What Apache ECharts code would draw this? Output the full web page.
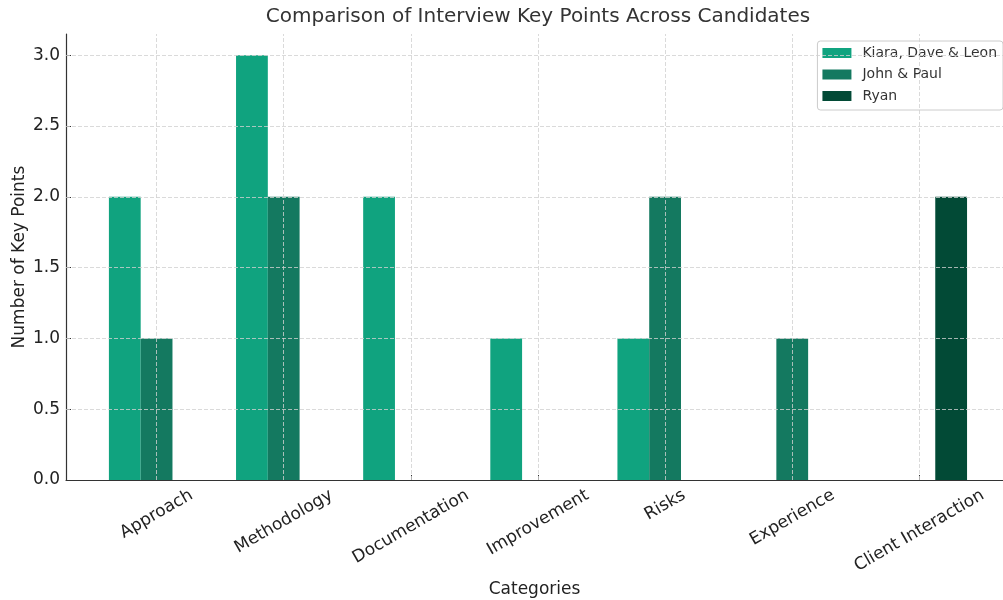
<!DOCTYPE html>
<html>
<head>
<meta charset="utf-8">
<script src="https://cdn.jsdelivr.net/npm/echarts@6/dist/echarts.min.js"></script>
<style>html,body{margin:0;padding:0;background:#fff}#c{width:1003px;height:600px}</style>
</head>
<body>
<div id="c"></div>
<script>
const categories = ['Approach', 'Methodology', 'Documentation', 'Improvement', 'Risks', 'Experience', 'Client Interaction'];
const kiaraDaveLeon = [2, 3, 2, 1, 1, 0, 0];
const johnPaul = [1, 2, 0, 0, 2, 1, 0];
const ryan = [0, 0, 0, 0, 0, 0, 2];
const seriesNames = ['Kiara, Dave & Leon', 'John & Paul', 'Ryan'];
const yTicks = [0, 0.5, 1.0, 1.5, 2.0, 2.5, 3.0];
const xTicks = categories.map((c, i) => i);

const FONT = '"DejaVu Sans", sans-serif';
const tickSize = 17;
const colors = ['#10A37F', '#147960', '#024A36'];

const cv = document.createElement('canvas').getContext('2d');
cv.font = tickSize + 'px "DejaVu Sans"';
const rich = {};
categories.forEach((c, i) => {
  const w = cv.measureText(c).width;
  const D = w / 4;
  rich['c' + i] = { fontSize: tickSize, fontFamily: FONT, color: '#222', padding: [1.732 * D, D, 0, 0] };
});

const gridStyle = { color: '#d0d0d0', width: 0.8, type: [4, 2] };
const markLineData = [].concat(
  xTicks.map(v => ({ xAxis: v })),
  yTicks.filter(v => v > 0).map(v => ({ yAxis: v }))
);

const toPairs = arr => arr.map((v, i) => [i, v]);
const allData = [kiaraDaveLeon, johnPaul, ryan];

const series = allData.map((d, k) => ({
  name: seriesNames[k],
  type: 'bar',
  data: toPairs(d),
  barWidth: '25%',
  barGap: '0%',
  itemStyle: { color: colors[k] },
  animation: false
}));
series.push({
  name: 'grid',
  type: 'line',
  data: [],
  silent: true,
  animation: false,
  markLine: {
    silent: true,
    symbol: 'none',
    label: { show: false },
    lineStyle: gridStyle,
    data: markLineData,
    animation: false
  }
});

const chart = echarts.init(document.getElementById('c'), null, { renderer: 'canvas' });
chart.setOption({
  backgroundColor: '#fff',
  animation: false,
  title: {
    text: 'Comparison of Interview Key Points Across Candidates',
    left: 538, top: 7, textAlign: 'center', padding: 0,
    textStyle: { fontFamily: FONT, fontSize: 20, fontWeight: 'normal', color: '#333' }
  },
  legend: {
    orient: 'vertical', right: 0, top: 41,
    data: seriesNames,
    itemWidth: 29, itemHeight: 10, itemGap: 7.5,
    icon: 'rect',
    padding: [5, 6, 7, 5],
    borderColor: '#cccccc', borderWidth: 1, borderRadius: 3,
    backgroundColor: 'rgba(255,255,255,0.8)',
    textStyle: { fontFamily: FONT, fontSize: 14, color: '#333', padding: [0, 0, 0, 6] }
  },
  grid: { left: 66, top: 34, right: 0, height: 446, containLabel: false, outerBoundsMode: 'none' },
  xAxis: {
    type: 'value', min: -0.7125, max: 6.6578,
    name: 'Categories', nameLocation: 'middle', nameGap: 99.5,
    nameTextStyle: { fontFamily: FONT, fontSize: 17, color: '#222' },
    axisLine: { show: true, onZero: false, lineStyle: { color: '#333', width: 1.2 } },
    axisTick: { show: true, inside: true, length: 5, customValues: xTicks, lineStyle: { color: '#333' } },
    axisLabel: {
      customValues: xTicks, rotate: 30, margin: 14, align: 'center', verticalAlign: 'middle',
      fontFamily: FONT, fontSize: tickSize, color: '#222',
      formatter: v => { const i = Math.round(v); return '{c' + i + '|' + categories[i] + '}'; },
      rich: rich
    },
    splitLine: { show: false }
  },
  yAxis: {
    type: 'value', min: 0, max: 3.15,
    name: 'Number of Key Points', nameLocation: 'middle', nameGap: 38, nameMoveOverlap: false,
    nameTextStyle: { fontFamily: FONT, fontSize: 17, color: '#222' },
    axisLine: { show: true, onZero: false, lineStyle: { color: '#333', width: 1.2 } },
    axisTick: { show: true, inside: true, length: 5, customValues: yTicks, lineStyle: { color: '#333' } },
    axisLabel: {
      customValues: yTicks, margin: 6,
      fontFamily: FONT, fontSize: tickSize, color: '#222',
      formatter: v => Number(v).toFixed(1)
    },
    splitLine: { show: false }
  },
  series: series
});
</script>
</body>
</html>
